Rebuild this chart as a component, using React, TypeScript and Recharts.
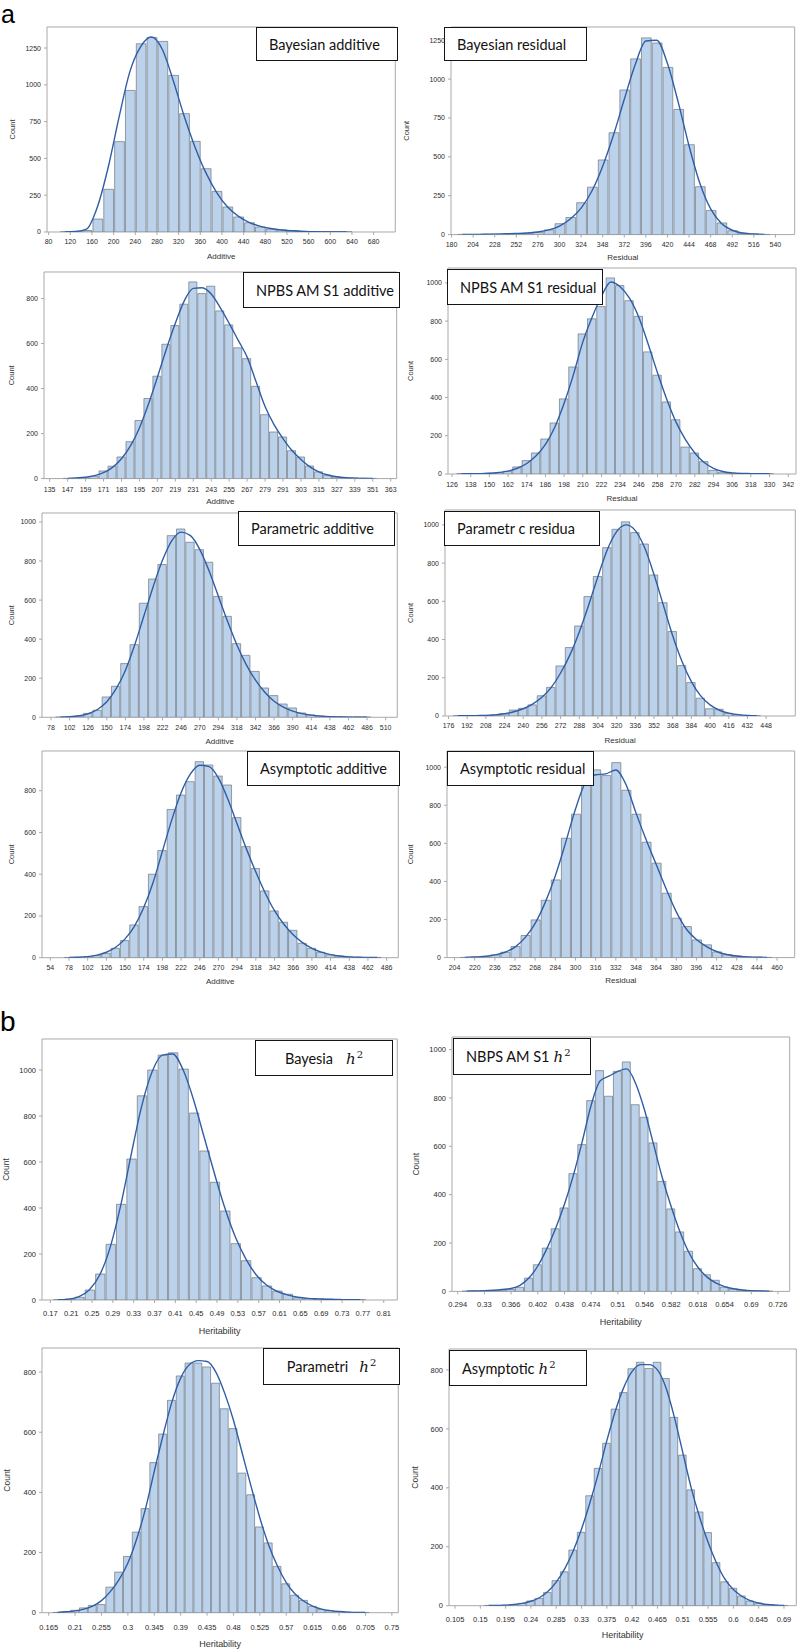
import type { ReactNode } from 'react'
import { ComposedChart, Bar, Line, XAxis, YAxis, ReferenceArea } from 'recharts'

const AXIS = '#a9a9a9'
const BAR_FILL = '#bcd1ea'
const BAR_STROKE = '#6f7780'
const CURVE = '#2f5ea6'
const FONT = '"Liberation Sans", Arial, sans-serif'

// ---------- a) additive / residual variance ----------
const yTicks1250 = [0, 250, 500, 750, 1000, 1250]
const yTicks1000 = [0, 200, 400, 600, 800, 1000]
const yTicks800 = [0, 200, 400, 600, 800]

const bayesAddTicks = [80, 120, 160, 200, 240, 280, 320, 360, 400, 440, 480, 520, 560, 600, 640, 680]
const bayesAddCounts = [1, 3, 10, 88, 290, 614, 962, 1279, 1322, 1295, 1064, 804, 616, 430, 276, 170, 102, 63, 34, 20, 15, 8, 5, 3, 2, 1, 1]
const bayesAddCurve = [1, 4, 20, 170, 440, 780, 1090, 1260, 1325, 1240, 1030, 790, 580, 405, 270, 172, 108, 66, 40, 24, 14, 8, 4, 2, 1, 1, 0]

const bayesResTicks = [180, 204, 228, 252, 276, 300, 324, 348, 372, 396, 420, 444, 468, 492, 516, 540]
const bayesResCounts = [1, 1, 2, 3, 4, 5, 8, 15, 30, 70, 110, 205, 305, 480, 655, 930, 1130, 1265, 1232, 1075, 805, 578, 308, 155, 75, 25, 8, 3, 1]
const bayesResCurve = [1, 1, 2, 3, 5, 7, 10, 17, 30, 55, 100, 170, 280, 440, 640, 870, 1090, 1245, 1250, 1100, 850, 570, 330, 165, 72, 28, 10, 4, 1]

const npbsAddTicks = [135, 147, 159, 171, 183, 195, 207, 219, 231, 243, 255, 267, 279, 291, 303, 315, 327, 339, 351, 363]
const npbsAddCounts = [1, 2, 4, 10, 34, 55, 96, 164, 258, 356, 455, 597, 680, 775, 874, 822, 855, 745, 683, 581, 533, 410, 284, 207, 185, 124, 96, 56, 30, 15, 7, 4, 3, 2, 1]
const npbsAddCurve = [1, 3, 6, 13, 26, 50, 88, 145, 225, 330, 450, 575, 690, 790, 845, 848, 820, 760, 690, 615, 540, 430, 320, 240, 178, 125, 85, 52, 30, 16, 8, 4, 2, 1, 1]

const npbsResTicks = [126, 138, 150, 162, 174, 186, 198, 210, 222, 234, 246, 258, 270, 282, 294, 306, 318, 330, 342]
const npbsResCounts = [1, 1, 2, 4, 7, 14, 37, 70, 110, 183, 267, 393, 560, 733, 812, 876, 1026, 986, 907, 825, 639, 517, 377, 284, 141, 110, 65, 19, 9, 4, 2, 1, 1, 1]
const npbsResCurve = [1, 1, 2, 4, 8, 15, 30, 55, 95, 155, 245, 370, 520, 690, 820, 930, 1005, 980, 920, 820, 680, 530, 390, 270, 180, 110, 60, 30, 13, 6, 3, 2, 1, 1]

const paraAddTicks = [78, 102, 126, 150, 174, 198, 222, 246, 270, 294, 318, 342, 366, 390, 414, 438, 462, 486, 510]
const paraAddCounts = [1, 2, 5, 20, 36, 104, 159, 275, 372, 584, 708, 782, 930, 964, 896, 858, 794, 619, 517, 377, 317, 235, 150, 111, 68, 48, 22, 12, 7, 4, 2, 1, 1, 1]
const paraAddCurve = [1, 3, 8, 18, 40, 80, 145, 240, 370, 520, 670, 805, 905, 948, 930, 860, 750, 620, 490, 370, 270, 190, 128, 82, 52, 32, 19, 11, 6, 3, 2, 1, 1, 0]

const paraResTicks = [176, 192, 208, 224, 240, 256, 272, 288, 304, 320, 336, 352, 368, 384, 400, 416, 432, 448]
const paraResCounts = [1, 1, 2, 3, 6, 12, 31, 40, 58, 106, 150, 262, 358, 471, 625, 730, 881, 977, 1016, 960, 900, 738, 593, 442, 264, 175, 93, 38, 35, 14, 7, 3, 1]
const paraResCurve = [1, 1, 2, 3, 6, 12, 22, 38, 62, 98, 150, 225, 320, 440, 580, 730, 870, 965, 1000, 970, 880, 740, 580, 420, 285, 180, 105, 58, 30, 15, 7, 3, 1]

const asymAddTicks = [54, 78, 102, 126, 150, 174, 198, 222, 246, 270, 294, 318, 342, 366, 390, 414, 438, 462, 486]
const asymAddCounts = [1, 2, 4, 10, 21, 45, 82, 157, 245, 400, 513, 710, 779, 843, 939, 923, 870, 827, 671, 532, 427, 320, 224, 170, 131, 69, 45, 26, 14, 7, 4, 2, 1, 1]
const asymAddCurve = [1, 2, 5, 12, 26, 50, 90, 150, 240, 360, 510, 660, 790, 880, 922, 915, 860, 760, 640, 520, 410, 310, 225, 160, 110, 72, 45, 27, 15, 8, 4, 2, 1, 1]

const asymResTicks = [204, 220, 236, 252, 268, 284, 300, 316, 332, 348, 364, 380, 396, 412, 428, 444, 460]
const asymResCounts = [1, 3, 7, 14, 28, 58, 116, 198, 301, 408, 627, 753, 942, 986, 956, 1024, 879, 753, 606, 496, 338, 207, 163, 93, 67, 30, 15, 8, 4, 2, 1]
const asymResCurve = [1, 3, 6, 14, 28, 55, 105, 180, 290, 430, 600, 780, 920, 960, 965, 985, 910, 760, 620, 490, 360, 240, 150, 95, 58, 32, 16, 8, 4, 2, 1]

// ---------- b) heritability ----------
const bayesH2Ticks = [0.17, 0.21, 0.25, 0.29, 0.33, 0.37, 0.41, 0.45, 0.49, 0.53, 0.57, 0.61, 0.65, 0.69, 0.73, 0.77, 0.81]
const bayesH2Counts = [1, 4, 12, 43, 113, 242, 416, 613, 888, 1000, 1065, 1075, 1004, 813, 648, 512, 387, 245, 171, 97, 61, 39, 25, 10, 6, 4, 3, 2, 1, 1]
const bayesH2Curve = [1, 4, 15, 45, 110, 230, 410, 630, 840, 990, 1065, 1070, 1000, 870, 710, 550, 400, 275, 180, 110, 65, 38, 22, 12, 7, 5, 3, 2, 1, 1]

const nbpsH2Ticks = [0.294, 0.33, 0.366, 0.402, 0.438, 0.474, 0.51, 0.546, 0.582, 0.618, 0.654, 0.69, 0.726]
const nbpsH2Counts = [1, 1, 2, 3, 5, 8, 17, 55, 110, 179, 259, 345, 487, 607, 789, 913, 807, 910, 949, 772, 720, 614, 455, 341, 246, 166, 94, 69, 46, 18, 10, 5, 3, 2, 1]
const nbpsH2Curve = [1, 2, 3, 5, 8, 12, 25, 55, 105, 175, 260, 360, 480, 620, 770, 870, 890, 910, 920, 860, 750, 610, 470, 350, 245, 160, 100, 60, 35, 20, 11, 6, 3, 2, 1]

const paraH2Ticks = [0.165, 0.21, 0.255, 0.3, 0.345, 0.39, 0.435, 0.48, 0.525, 0.57, 0.615, 0.66, 0.705, 0.75]
const paraH2Counts = [1, 3, 8, 16, 24, 27, 85, 135, 187, 268, 346, 499, 594, 706, 787, 830, 830, 817, 763, 678, 612, 464, 392, 285, 232, 154, 96, 58, 41, 21, 11, 7, 4, 2, 1, 1]
const paraH2Curve = [1, 3, 6, 12, 22, 40, 70, 110, 165, 245, 345, 470, 590, 700, 780, 825, 838, 835, 800, 730, 640, 530, 420, 315, 225, 155, 100, 62, 38, 22, 12, 7, 4, 2, 1, 1]

const asymH2Ticks = [0.105, 0.15, 0.195, 0.24, 0.285, 0.33, 0.375, 0.42, 0.465, 0.51, 0.555, 0.6, 0.645, 0.69]
const asymH2Counts = [1, 1, 2, 4, 8, 16, 25, 45, 85, 115, 189, 249, 373, 466, 551, 667, 723, 804, 826, 805, 826, 771, 639, 511, 393, 318, 248, 146, 81, 59, 33, 16, 8, 4, 2, 1]
const asymH2Curve = [1, 1, 2, 4, 8, 15, 27, 48, 80, 125, 185, 260, 350, 450, 560, 660, 740, 795, 818, 818, 800, 740, 640, 520, 400, 300, 215, 145, 90, 55, 32, 17, 9, 4, 2, 1]

interface PanelSpec {
  frame: [number, number, number, number]
  xDomain: [number, number]
  yMax: number
  xTicks: number[]
  yTicks: number[]
  firstBin: number
  binWidth: number
  counts: number[]
  curve: number[]
  xTitle: string
  xTitleY: number
  xTickY: number
  countX: number
  title: ReactNode
  titleBox: [number, number, number, number]
  centerTitle?: boolean
  partB?: boolean
}

const H2 = ({ gap }: { gap: number }) => (
  <span style={{ fontFamily: '"DejaVu Serif", serif', fontStyle: 'italic', marginLeft: gap, fontSize: 15 }}>
    h<sup style={{ fontStyle: 'normal', fontSize: 10, marginLeft: 1 }}>2</sup>
  </span>
)

const panels: PanelSpec[] = [
  {
    frame: [46.7, 26.7, 395, 231.7], xDomain: [77, 720], yMax: 1393,
    xTicks: bayesAddTicks, yTicks: yTicks1250, firstBin: 110, binWidth: 20,
    counts: bayesAddCounts, curve: bayesAddCurve,
    xTitle: 'Additive', xTitleY: 24.3, xTickY: 9, countX: 11.7,
    title: 'Bayesian additive', titleBox: [256, 27, 398, 61],
  },
  {
    frame: [451.3, 26.7, 795, 234.3], xDomain: [179.4, 561.4], yMax: 1335,
    xTicks: bayesResTicks, yTicks: yTicks1250, firstBin: 192, binWidth: 12,
    counts: bayesResCounts, curve: bayesResCurve,
    xTitle: 'Residual', xTitleY: 23, xTickY: 9.7, countX: 407,
    title: 'Bayesian residual', titleBox: [444, 27, 587, 61],
  },
  {
    frame: [44.3, 271.7, 397, 478.3], xDomain: [131.2, 367], yMax: 918,
    xTicks: npbsAddTicks, yTicks: yTicks800, firstBin: 147, binWidth: 6,
    counts: npbsAddCounts, curve: npbsAddCurve,
    xTitle: 'Additive', xTitleY: 23, xTickY: 11, countX: 11.7,
    title: 'NPBS AM S1 additive', titleBox: [243, 272, 400, 308],
  },
  {
    frame: [448, 268.3, 796, 474.3], xDomain: [123.4, 347], yMax: 1078,
    xTicks: npbsResTicks, yTicks: yTicks1000, firstBin: 132, binWidth: 6,
    counts: npbsResCounts, curve: npbsResCurve,
    xTitle: 'Residual', xTitleY: 23.7, xTickY: 10.7, countX: 410,
    title: 'NPBS AM S1 residual', titleBox: [447, 269, 603, 305],
  },
  {
    frame: [41.7, 513, 397, 717.3], xDomain: [66.4, 525], yMax: 1046,
    xTicks: paraAddTicks, yTicks: yTicks1000, firstBin: 90, binWidth: 12,
    counts: paraAddCounts, curve: paraAddCurve,
    xTitle: 'Additive', xTitleY: 23.7, xTickY: 10, countX: 11,
    title: 'Parametric additive', titleBox: [238, 511, 395, 546],
  },
  {
    frame: [444.7, 509.7, 795, 715.7], xDomain: [173, 473], yMax: 1078,
    xTicks: paraResTicks, yTicks: yTicks1000, firstBin: 184, binWidth: 8,
    counts: paraResCounts, curve: paraResCurve,
    xTitle: 'Residual', xTitleY: 24, xTickY: 9, countX: 410,
    title: 'Parametr c residua', titleBox: [444, 511, 600, 546],
  },
  {
    frame: [41.7, 750.7, 398, 957.4], xDomain: [43.3, 501], yMax: 990,
    xTicks: asymAddTicks, yTicks: yTicks800, firstBin: 78, binWidth: 12,
    counts: asymAddCounts, curve: asymAddCurve,
    xTitle: 'Additive', xTitleY: 23.6, xTickY: 10, countX: 11,
    title: 'Asymptotic additive', titleBox: [247, 751, 400, 786],
  },
  {
    frame: [447.3, 750.7, 795, 957.3], xDomain: [198, 474], yMax: 1085,
    xTicks: asymResTicks, yTicks: yTicks1000, firstBin: 212, binWidth: 8,
    counts: asymResCounts, curve: asymResCurve,
    xTitle: 'Residual', xTitleY: 22.7, xTickY: 10, countX: 411,
    title: 'Asymptotic residual', titleBox: [447, 751, 594, 786],
  },
  {
    frame: [41.7, 1039, 397, 1300], xDomain: [0.154, 0.836], yMax: 1135,
    xTicks: bayesH2Ticks, yTicks: yTicks1000, firstBin: 0.185, binWidth: 0.02,
    counts: bayesH2Counts, curve: bayesH2Curve,
    xTitle: 'Heritability', xTitleY: 31, xTickY: 13, countX: 6,
    title: <>Bayesia<H2 gap={13} /></>, titleBox: [255, 1040, 393, 1076], centerTitle: true, partB: true,
  },
  {
    frame: [452.3, 1037.3, 790, 1291.7], xDomain: [0.2863, 0.7418], yMax: 1052,
    xTicks: nbpsH2Ticks, yTicks: yTicks1000, firstBin: 0.306, binWidth: 0.012,
    counts: nbpsH2Counts, curve: nbpsH2Curve,
    xTitle: 'Heritability', xTitleY: 30.3, xTickY: 13.3, countX: 416,
    title: <>NBPS AM S1<H2 gap={4} /></>, titleBox: [453, 1038, 591, 1075], partB: true,
  },
  {
    frame: [41.7, 1348, 398, 1612.7], xDomain: [0.1536, 0.761], yMax: 880,
    xTicks: paraH2Ticks, yTicks: yTicks800, firstBin: 0.18, binWidth: 0.015,
    counts: paraH2Counts, curve: paraH2Curve,
    xTitle: 'Heritability', xTitleY: 31, xTickY: 14.3, countX: 7,
    title: <>Parametri<H2 gap={11} /></>, titleBox: [263, 1348, 400, 1385], centerTitle: true, partB: true,
  },
  {
    frame: [448.7, 1349.3, 796, 1606], xDomain: [0.0943, 0.7119], yMax: 871,
    xTicks: asymH2Ticks, yTicks: yTicks800, firstBin: 0.165, binWidth: 0.015,
    counts: asymH2Counts, curve: asymH2Curve,
    xTitle: 'Heritability', xTitleY: 29, xTickY: 14, countX: 414.7,
    title: <>Asymptotic<H2 gap={4} /></>, titleBox: [449, 1350, 587, 1386], partB: true,
  },
]

function Panel({ p }: { p: PanelSpec }) {
  const [fx0, fy0, fx1, fy1] = p.frame
  const yAxisW = 52
  const tickFs = p.partB ? 7.5 : 7
  const titleFs = p.partB ? 9 : 8
  const countFs = p.partB ? 8.5 : 7.5
  const xAxisH = p.xTitleY + titleFs * 0.36
  const left = fx0 - yAxisW
  const top = fy0 - 2
  const width = fx1 - fx0 + yAxisW + 2
  const height = fy1 - fy0 + 2 + xAxisH + 4
  const barPx = ((fx1 - fx0) * p.binWidth) / (p.xDomain[1] - p.xDomain[0])
  const tickMargin = p.xTickY - 3 - tickFs * 0.35

  const data = p.counts.map((count, i) => ({
    x: +(p.firstBin + i * p.binWidth).toFixed(4),
    count,
    density: p.curve[i],
  }))

  const [bx0, by0, bx1, by1] = p.titleBox

  return (
    <>
      <div style={{ position: 'absolute', left, top }}>
        <ComposedChart width={width} height={height} data={data} margin={{ top: 2, right: 2, bottom: 4, left: 0 }}>
          <XAxis
            dataKey="x"
            type="number"
            domain={p.xDomain}
            allowDataOverflow
            ticks={p.xTicks}
            interval={0}
            height={xAxisH}
            axisLine={false}
            tickLine={{ stroke: AXIS }}
            tickSize={3}
            tickMargin={tickMargin}
            tick={{ fontSize: tickFs, fill: '#2a2a2a', fontFamily: FONT }}
            label={{ value: p.xTitle, position: 'insideBottom', offset: 0, fontSize: titleFs, fill: '#333', fontFamily: FONT }}
          />
          <YAxis
            type="number"
            domain={[0, p.yMax]}
            allowDataOverflow
            ticks={p.yTicks}
            interval={0}
            width={yAxisW}
            axisLine={false}
            tickLine={{ stroke: AXIS }}
            tickSize={3}
            tickMargin={3}
            tick={{ fontSize: tickFs, fill: '#2a2a2a', fontFamily: FONT }}
            label={{
              value: 'Count',
              angle: -90,
              position: 'insideLeft',
              offset: p.countX - left,
              fontSize: countFs,
              fill: '#333',
              fontFamily: FONT,
              style: { textAnchor: 'middle' },
            }}
          />
          <ReferenceArea x1={p.xDomain[0]} x2={p.xDomain[1]} y1={0} y2={p.yMax} fill="none" stroke={AXIS} strokeWidth={1} />
          <Bar dataKey="count" barSize={barPx} fill={BAR_FILL} stroke={BAR_STROKE} strokeWidth={0.7} isAnimationActive={false} />
          <Line dataKey="density" type="monotone" stroke={CURVE} strokeWidth={1.4} dot={false} activeDot={false} isAnimationActive={false} />
        </ComposedChart>
      </div>
      <div
        style={{
          position: 'absolute',
          left: bx0,
          top: by0,
          width: bx1 - bx0,
          height: by1 - by0,
          boxSizing: 'border-box',
          border: '1.5px solid #151515',
          background: '#fff',
          display: 'flex',
          alignItems: 'center',
          justifyContent: p.centerTitle ? 'center' : 'flex-start',
          paddingLeft: p.centerTitle ? 0 : 12,
          fontFamily: 'Lato, "Open Sans", sans-serif',
          fontSize: 14.5,
          color: '#111',
          whiteSpace: 'nowrap',
        }}
      >
        {p.title}
      </div>
    </>
  )
}

export default function App() {
  return (
    <div style={{ position: 'absolute', left: 0, top: 0, width: 798, height: 1650, background: '#fff', overflow: 'hidden' }}>
      <div style={{ position: 'absolute', left: 1, top: 0, fontFamily: FONT, fontSize: 25, lineHeight: '29px' }}>a</div>
      <div style={{ position: 'absolute', left: 0, top: 1006, fontFamily: FONT, fontSize: 28, lineHeight: '32px' }}>b</div>
      {panels.map((p, i) => (
        <Panel key={i} p={p} />
      ))}
    </div>
  )
}
